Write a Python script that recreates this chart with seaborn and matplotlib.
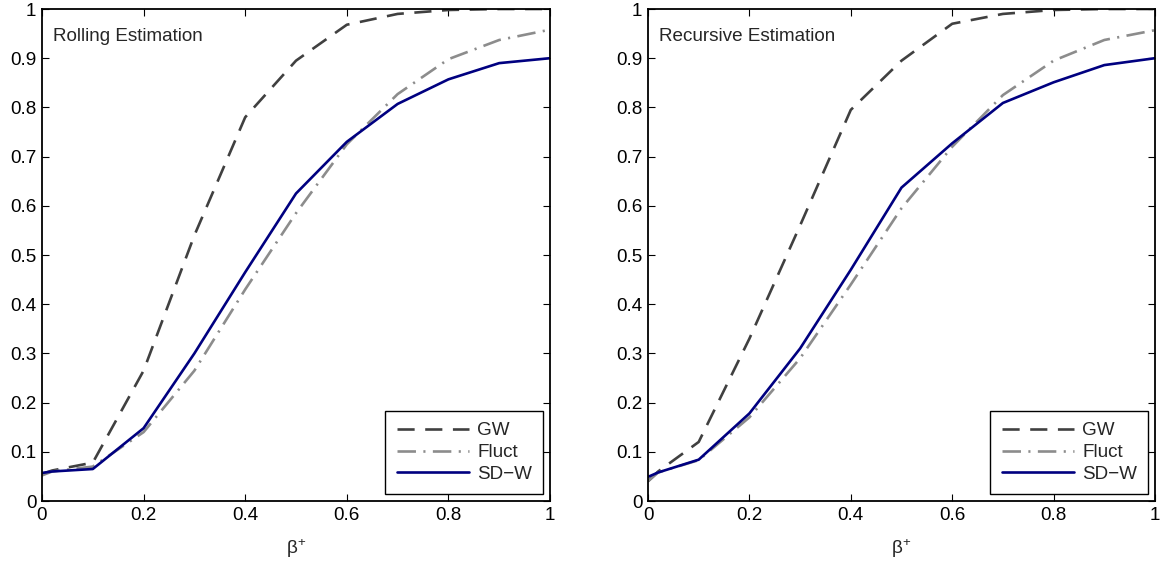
import numpy as np
import pandas as pd
import matplotlib
matplotlib.use('Agg')
import matplotlib.pyplot as plt
import seaborn as sns

### Data

beta = [0, 0.02, 0.1, 0.2, 0.3, 0.4, 0.5, 0.6, 0.7, 0.8, 0.9, 1.0]

# Rolling estimation
roll_gw = [0.055, 0.062, 0.078, 0.265, 0.54, 0.78, 0.895, 0.968, 0.99, 0.998, 1.0, 1.0]
roll_fluct = [0.052, 0.060, 0.070, 0.140, 0.265, 0.43, 0.585, 0.725, 0.827, 0.898, 0.937, 0.958]
roll_sdw = [0.057, 0.060, 0.065, 0.148, 0.300, 0.465, 0.625, 0.730, 0.807, 0.857, 0.890, 0.900]

# Recursive estimation
rec_gw = [0.040, 0.060, 0.120, 0.330, 0.560, 0.795, 0.895, 0.970, 0.990, 0.998, 1.0, 1.0]
rec_fluct = [0.040, 0.058, 0.083, 0.170, 0.290, 0.440, 0.595, 0.720, 0.825, 0.895, 0.937, 0.957]
rec_sdw = [0.049, 0.058, 0.084, 0.178, 0.310, 0.470, 0.637, 0.727, 0.809, 0.851, 0.886, 0.900]

panel_titles = ['Rolling Estimation', 'Recursive Estimation']
tests = ['GW', 'Fluct', 'SD\u2212W']
x_ticks = [0, 0.2, 0.4, 0.6, 0.8, 1]
y_ticks = [0, 0.1, 0.2, 0.3, 0.4, 0.5, 0.6, 0.7, 0.8, 0.9, 1]

def long_frame(gw, fluct, sdw):
    frames = []
    for name, vals in zip(tests, [gw, fluct, sdw]):
        frames.append(pd.DataFrame({'beta': beta, 'power': vals, 'test': name}))
    return pd.concat(frames, ignore_index=True)

panels = [long_frame(roll_gw, roll_fluct, roll_sdw),
          long_frame(rec_gw, rec_fluct, rec_sdw)]

### Styling

sns.set_style('white')
plt.rcParams['font.family'] = ['Liberation Sans', 'DejaVu Sans']
plt.rcParams['mathtext.fontset'] = 'custom'
plt.rcParams['mathtext.rm'] = 'Liberation Sans'
plt.rcParams['mathtext.it'] = 'Liberation Sans:italic'

palette = {tests[0]: '#404040', tests[1]: '#8c8c8c', tests[2]: '#000080'}
dashes = {tests[0]: (6.5, 4), tests[1]: (7, 2.8, 0.8, 2.8), tests[2]: ''}

fig = plt.figure(figsize=(11.64, 5.67), dpi=100)
axes = [fig.add_axes([42 / 1164, 66 / 567, 508 / 1164, 492 / 567]),
        fig.add_axes([648 / 1164, 66 / 567, 507 / 1164, 492 / 567])]

fs = 13.6
for ax, df, title in zip(axes, panels, panel_titles):
    sns.lineplot(data=df, x='beta', y='power', hue='test', style='test',
                 palette=palette, dashes=dashes, linewidth=1.9, ax=ax,
                 legend=False)
    ax.set_xlim(0, 1)
    ax.set_ylim(0, 1)
    ax.set_xticks(x_ticks)
    ax.set_xticklabels(['0', '0.2', '0.4', '0.6', '0.8', '1'])
    ax.set_yticks(y_ticks)
    ax.set_yticklabels(['0', '0.1', '0.2', '0.3', '0.4', '0.5', '0.6',
                        '0.7', '0.8', '0.9', '1'])
    ax.tick_params(direction='in', length=5, width=0.8, top=True, right=True,
                   bottom=True, left=True, labelsize=fs, pad=4, colors='black')
    for side in ax.spines.values():
        side.set_visible(True)
        side.set_color('black')
        side.set_linewidth(1.3)
    ax.set_xlabel(r'β$^{+}$', fontsize=fs, labelpad=10)
    ax.set_ylabel('')
    ax.text(0.022, 0.945, title, transform=ax.transAxes, fontsize=fs,
            ha='left', va='center')
    leg = ax.legend(ax.lines[:3], tests, loc='lower right', fontsize=fs,
                    handlelength=3.8, fancybox=False, framealpha=1,
                    edgecolor='black', borderaxespad=0.35,
                    labelspacing=0.25, handletextpad=0.45,
                    borderpad=0.6)
    leg.get_frame().set_linewidth(1.0)

fig.savefig('out.png', dpi=100)
